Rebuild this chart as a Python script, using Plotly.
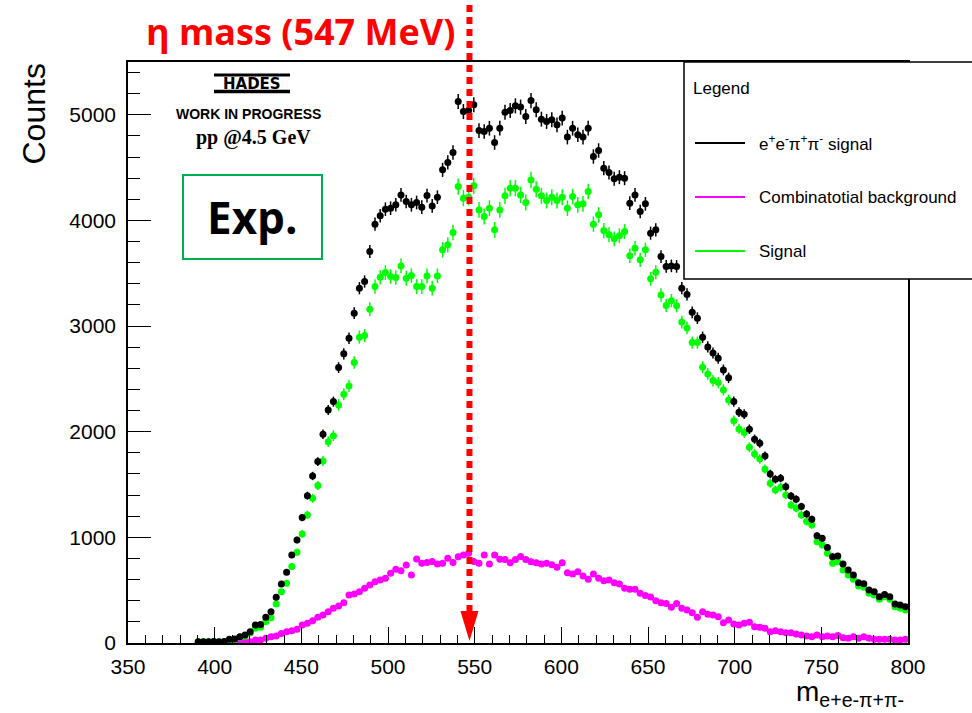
import numpy as np
import plotly.graph_objects as go

# Invariant-mass histogram, 3 MeV bins starting at 390.5 MeV (bin centres)
BIN_FIRST = 390.5
BIN_WIDTH = 3.0
ETA_MASS = 547.0

# e+e-pi+pi- candidates (counts per bin)
total_counts = [
    12, 12, 12, 15, 12, 15, 35, 38, 60, 76,
    107, 170, 176, 243, 297, 432, 559, 669, 833, 975,
    1187, 1395, 1581, 1717, 1976, 2206, 2285, 2607, 2737, 2885,
    3122, 3359, 3422, 3706, 3965, 4044, 4107, 4116, 4148, 4242,
    4179, 4148, 4170, 4126, 4236, 4138, 4220, 4479, 4549, 4643,
    5126, 5031, 5041, 5095, 4851, 4842, 4873, 4738, 4873, 5025,
    5041, 5085, 5073, 4984, 5135, 5047, 4959, 4937, 4953, 4905,
    4969, 4789, 4873, 4811, 4789, 4873, 4605, 4662, 4495, 4454,
    4394, 4410, 4400, 4164, 4242, 4084, 4157, 3880, 3911, 3658,
    3565, 3570, 3565, 3359, 3300, 3130, 3075, 2895, 2803, 2746,
    2696, 2585, 2510, 2285, 2185, 2166, 2024, 1929, 1891, 1771,
    1600, 1550, 1560, 1480, 1392, 1361, 1291, 1222, 1171, 1016,
    991, 903, 817, 823, 748, 691, 644, 571, 560, 502,
    486, 439, 460, 439, 369, 360, 344,
]

# combinatorial background
background_counts = [
    None, None, None, None, None, 3, 4, 5, 5, 12,
    12, 28, 28, 44, 60, 66, 91, 107, 117, 130,
    170, 186, 211, 243, 265, 297, 328, 350, 382, 455,
    464, 486, 518, 549, 581, 597, 612, 660, 698, 685,
    739, 644, 795, 755, 761, 771, 748, 755, 802, 761,
    817, 833, 849, 771, 755, 833, 748, 833, 792, 790,
    760, 790, 820, 790, 770, 760, 748, 755, 740, 717,
    760, 666, 653, 675, 634, 603, 653, 612, 590, 597,
    571, 559, 518, 508, 508, 470, 450, 435, 401, 382,
    375, 338, 375, 328, 312, 287, 243, 297, 271, 265,
    249, 192, 218, 180, 170, 186, 196, 155, 148, 139,
    107, 117, 107, 98, 98, 85, 76, 66, 60, 76,
    60, 66, 60, 70, 50, 44, 60, 44, 60, 44,
    35, 35, 35, 35, 28, 28, 35,
]

# background-subtracted signal
signal_counts = [
    12, 12, 12, 15, 10, 12, 30, 33, 55, 65,
    95, 140, 150, 200, 240, 369, 486, 565, 723, 859,
    1032, 1212, 1370, 1490, 1723, 1906, 1963, 2254, 2355, 2434,
    2655, 2895, 2910, 3160, 3374, 3463, 3507, 3469, 3460, 3570,
    3453, 3478, 3374, 3374, 3475, 3359, 3475, 3722, 3769, 3886,
    4321, 4211, 4220, 4328, 4100, 4037, 4116, 3911, 4100, 4233,
    4306, 4306, 4242, 4170, 4384, 4296, 4233, 4189, 4220, 4189,
    4220, 4116, 4226, 4148, 4157, 4274, 3965, 4053, 3904, 3864,
    3826, 3855, 3895, 3665, 3737, 3627, 3722, 3447, 3510, 3295,
    3196, 3241, 3193, 3038, 2983, 2844, 2844, 2611, 2547, 2484,
    2465, 2396, 2301, 2105, 2027, 1992, 1853, 1790, 1742, 1645,
    1512, 1449, 1474, 1402, 1307, 1275, 1212, 1149, 1117, 959,
    928, 849, 755, 770, 691, 644, 603, 540, 527, 470,
    455, 413, 438, 413, 344, 328, 312,
]

x_ticks = [350, 400, 450, 500, 550, 600, 650, 700, 750, 800]
y_ticks = [0, 1000, 2000, 3000, 4000, 5000]

legend_labels = ["e<sup>+</sup>e<sup>-</sup>π<sup>+</sup>π<sup>-</sup> signal",
                 "Combinatotial background", "Signal"]

BLACK, MAGENTA, GREEN = "#000000", "#ff00ff", "#00ff00"

n = len(total_counts)
mass = BIN_FIRST + BIN_WIDTH * np.arange(n)
tot = np.array(total_counts, dtype=float)
bkg = np.array([np.nan if v is None else v for v in background_counts], dtype=float)
sig = np.array(signal_counts, dtype=float)

err_tot = np.sqrt(tot)
err_bkg = np.sqrt(bkg)
err_sig = np.sqrt(tot + np.nan_to_num(bkg))


def points(y, err, color):
    return go.Scatter(
        x=mass, y=y, mode="markers",
        marker=dict(symbol="circle", size=7, color=color, line=dict(width=0)),
        error_y=dict(type="data", array=err, visible=True, color=color,
                     thickness=1.5, width=0),
        showlegend=False, hoverinfo="x+y",
    )


fig = go.Figure()
fig.add_trace(points(bkg, err_bkg, MAGENTA))
fig.add_trace(points(sig, err_sig, GREEN))
fig.add_trace(points(tot, err_tot, BLACK))

# plot frame in pixel terms
L, R, T, B = 128, 64, 62, 70
W, H = 972, 713
PW, PH = W - L - R, H - T - B


def px_x(p):
    return (p - L) / PW


def px_y(p):
    return (T + PH - p) / PH


axis_font = dict(family="Liberation Sans, Arial, sans-serif", size=21, color="black")

fig.update_layout(
    width=W, height=H,
    margin=dict(l=L, r=R, t=T, b=B),
    paper_bgcolor="white", plot_bgcolor="white",
    showlegend=False,
    xaxis=dict(
        range=[350, 800], tickmode="array", tickvals=x_ticks,
        ticktext=[str(v) for v in x_ticks],
        ticks="inside", ticklen=16, tickwidth=1, tickcolor="black",
        minor=dict(dtick=10, tick0=350, ticks="inside", ticklen=8,
                   tickwidth=1, tickcolor="black", showgrid=False),
        showgrid=False, zeroline=False,
        showline=True, linecolor="black", linewidth=1.5, mirror=True,
        tickfont=axis_font, ticklabelstandoff=4,
    ),
    yaxis=dict(
        range=[0, 5500], tickmode="array", tickvals=y_ticks,
        ticktext=[str(v) for v in y_ticks],
        ticks="inside", ticklen=23, tickwidth=1, tickcolor="black",
        minor=dict(dtick=200, tick0=0, ticks="inside", ticklen=12,
                   tickwidth=1, tickcolor="black", showgrid=False),
        showgrid=False, zeroline=False,
        showline=True, linecolor="black", linewidth=1.5, mirror=True,
        tickfont=axis_font, ticklabelstandoff=6,
    ),
)

shapes = []

# legend box (extends past the right edge of the canvas)
shapes.append(dict(type="rect", xref="paper", yref="paper",
                   x0=px_x(684), x1=px_x(980), y0=px_y(279), y1=px_y(62),
                   line=dict(color="black", width=1.5), fillcolor="white",
                   layer="above"))
for color, py in zip([BLACK, MAGENTA, GREEN], [143, 197, 251]):
    shapes.append(dict(type="line", xref="paper", yref="paper",
                       x0=px_x(695), x1=px_x(745), y0=px_y(py), y1=px_y(py),
                       line=dict(color=color, width=2)))

# "Exp." frame
shapes.append(dict(type="rect", xref="paper", yref="paper",
                   x0=px_x(183), x1=px_x(322), y0=px_y(259), y1=px_y(175),
                   line=dict(color="#00b050", width=2), fillcolor="rgba(0,0,0,0)"))

# HADES logo bars
shapes.append(dict(type="line", xref="paper", yref="paper",
                   x0=px_x(214), x1=px_x(290), y0=px_y(75), y1=px_y(75),
                   line=dict(color="black", width=3)))
shapes.append(dict(type="line", xref="paper", yref="paper",
                   x0=px_x(214), x1=px_x(290), y0=px_y(91.5), y1=px_y(91.5),
                   line=dict(color="black", width=3.5)))

# eta-mass marker: dotted red line with arrow head
shapes.append(dict(type="line", xref="x", yref="paper",
                   x0=ETA_MASS, x1=ETA_MASS, y0=px_y(612), y1=px_y(4),
                   line=dict(color="#ff0000", width=6, dash="7px,5px")))
half = 9 / (PW / 450.0)
y_top, y_tip = px_y(611), px_y(641)
shapes.append(dict(type="path", xref="x", yref="paper",
                   path=f"M {ETA_MASS - half},{y_top} L {ETA_MASS + half},{y_top} "
                        f"L {ETA_MASS},{y_tip} Z",
                   fillcolor="#ff0000", line=dict(color="#ff0000", width=0)))

fig.update_layout(shapes=shapes)

ann = []


def text(xp, yp, s, size, family="Liberation Sans, Arial, sans-serif",
         color="black", xanchor="center", yanchor="middle", angle=0):
    ann.append(dict(x=px_x(xp), y=px_y(yp), xref="paper", yref="paper",
                    text=s, showarrow=False, xanchor=xanchor, yanchor=yanchor,
                    textangle=angle,
                    font=dict(family=family, size=size, color=color)))


text(300, 31, "<b>η mass (547 MeV)</b>", 36, family="Open Sans, sans-serif",
     color="#ff0000")
text(252, 83.5, "<b>HADES</b>", 15, family="DejaVu Sans, sans-serif")
text(248, 114, "<b>WORK IN PROGRESS</b>", 14)
text(253, 137, "<b>pp @4.5 GeV</b>", 20, family="Liberation Serif, Times New Roman, serif")
text(252, 217, "<b>Exp.</b>", 44, family="Open Sans, sans-serif")

text(691, 88, "Legend", 17, xanchor="left")
for label, py in zip(legend_labels, [143, 197, 251]):
    text(757, py, label, 17, xanchor="left")

text(33, 62, "Counts", 32, yanchor="top", angle=-90)
text(906, 694, "m<sub>e+e-π+π-</sub>", 28, xanchor="right")

fig.update_layout(annotations=ann)

fig.write_html("out.html")
